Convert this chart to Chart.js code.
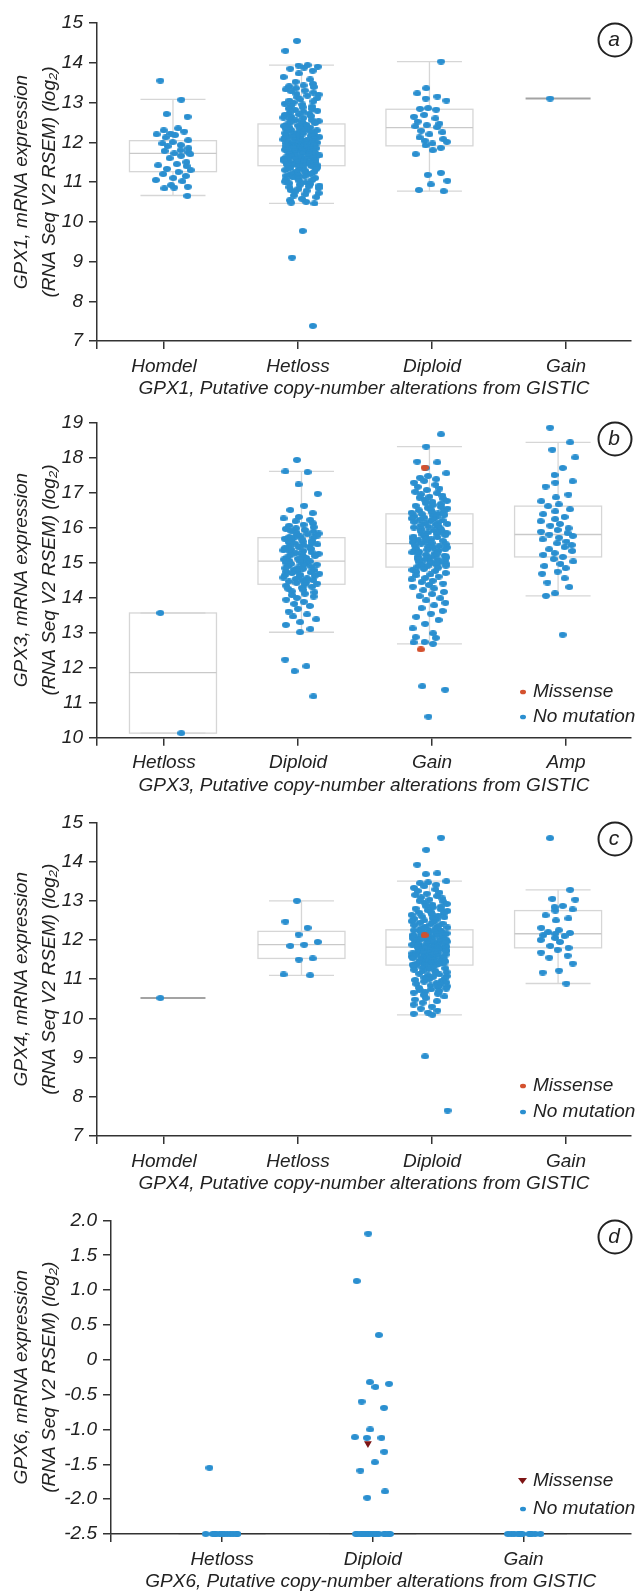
<!DOCTYPE html>
<html>
<head>
<meta charset="utf-8">
<script src="https://cdn.jsdelivr.net/npm/chart.js@4.4.0/dist/chart.umd.min.js"></script>
<style>
  body { margin: 0; background: #fff; }
  #wrap { position: relative; width: 635px; height: 1596px; overflow: hidden; }
  canvas { position: absolute; left: 0; }
</style>
</head>
<body>
<div id="wrap">
  <canvas id="chartA" width="635" height="405" style="top:0px"></canvas>
  <canvas id="chartB" width="635" height="400" style="top:405px"></canvas>
  <canvas id="chartC" width="635" height="398" style="top:805px"></canvas>
  <canvas id="chartD" width="635" height="393" style="top:1203px"></canvas>
</div>
<script>
// ---- panel a : GPX1 ----
const catsA = ['Homdel', 'Hetloss', 'Diploid', 'Gain'];
const homdelA = [13.55, 13.07, 12.71, 12.64, 12.35, 12.3, 12.27, 12.22, 12.2, 12.18, 12.12, 12.05, 12.0, 11.97, 11.93,
  11.9, 11.85, 11.8, 11.78, 11.75, 11.72, 11.7, 11.66, 11.6, 11.5, 11.45, 11.42, 11.4, 11.33, 11.3, 11.25, 11.2,
  11.15, 11.1, 11.05, 11.02, 10.92, 10.88, 10.86, 10.84, 10.65];
const hetlossA = [14.55, 14.3, 13.94, 13.93, 13.9, 13.88, 13.85, 13.8, 13.73, 13.64, 13.58, 13.52, 13.47, 13.43, 13.41,
  13.39, 13.36, 13.33, 13.3, 13.28, 13.25, 13.22, 13.2, 13.17, 13.13, 13.11, 13.08, 13.05, 13.03, 13.0, 12.97, 12.95,
  12.92, 12.9, 12.88, 12.85, 12.84, 12.81, 12.79, 12.77, 12.74, 12.72, 12.7, 12.69, 12.66, 12.64, 12.62, 12.61, 12.58,
  12.56, 12.55, 12.53, 12.51, 12.5, 12.48, 12.47,
  12.45, 12.44, 12.42, 12.41, 12.4, 12.38, 12.37, 12.35, 12.34, 12.33, 12.31, 12.3, 12.29, 12.27, 12.26, 12.25, 12.23,
  12.22, 12.21, 12.19, 12.18, 12.17, 12.16, 12.14, 12.13, 12.12, 12.11, 12.09, 12.08, 12.07, 12.06, 12.05, 12.04, 12.03,
  12.02, 12.01, 12.0, 11.99, 11.98, 11.98, 11.97, 11.96, 11.95, 11.95, 11.94, 11.93, 11.93, 11.92, 11.92, 11.91, 11.91,
  11.9, 11.9, 11.89, 11.88, 11.88, 11.87, 11.86, 11.85, 11.84, 11.84, 11.83, 11.82, 11.81, 11.8, 11.79, 11.78, 11.77,
  11.76, 11.75, 11.74, 11.73, 11.72, 11.71, 11.7, 11.68, 11.67, 11.66, 11.65, 11.64, 11.63, 11.62, 11.6, 11.59, 11.58,
  11.57, 11.56, 11.55, 11.54, 11.53, 11.52, 11.51, 11.5, 11.49, 11.48, 11.47, 11.46, 11.45, 11.44, 11.43, 11.43, 11.42, 11.41,
  11.4, 11.39, 11.37, 11.36, 11.34, 11.33, 11.31, 11.3, 11.28, 11.26, 11.25, 11.23, 11.21, 11.2, 11.18, 11.16, 11.14,
  11.12, 11.1, 11.09, 11.07, 11.05, 11.03, 11.01, 10.99, 10.97, 10.95, 10.93, 10.91, 10.89, 10.87, 10.85, 10.83, 10.8,
  10.78, 10.75, 10.72, 10.69, 10.66, 10.62, 10.58, 10.54, 10.5, 10.48, 10.46, 9.77, 9.1, 7.38];
const diploidA = [14.03, 13.36, 13.23, 13.15, 13.1, 13.05, 12.86, 12.84, 12.82, 12.69, 12.64, 12.6, 12.52, 12.47, 12.43,
  12.4, 12.38, 12.29, 12.25, 12.2, 12.12, 12.08, 12.04, 12.01, 11.97, 11.92, 11.86, 11.8, 11.7, 11.23, 11.18, 11.03,
  10.94, 10.8, 10.77];
const gainA = [13.1];
const lowA = [10.66, 10.46, 10.77, 13.1];
const q1A = [11.26, 11.41, 11.91, 13.1];
const medA = [11.72, 11.91, 12.37, 13.1];
const q3A = [12.04, 12.46, 12.83, 13.1];
const highA = [13.08, 13.94, 14.03, 13.1];

// ---- panel b : GPX3 ----
const catsB = ['Hetloss', 'Diploid', 'Gain', 'Amp'];
const hetlossB = [13.56, 10.13];
const diploidB = [17.93, 17.6, 17.58, 17.23, 16.96, 16.62, 16.5, 16.41, 16.3, 16.26, 16.22, 16.18, 16.12, 16.08, 16.05,
  16.01, 15.98, 15.96, 15.93, 15.9, 15.88, 15.86, 15.83, 15.81, 15.79, 15.77, 15.75, 15.73, 15.72,
  15.7, 15.68, 15.66, 15.64, 15.62, 15.6, 15.58, 15.56, 15.54, 15.52, 15.5, 15.47, 15.45, 15.43, 15.41, 15.39, 15.37,
  15.35, 15.33, 15.31, 15.29, 15.27, 15.25, 15.23, 15.21, 15.19, 15.17, 15.15, 15.13, 15.11, 15.09, 15.07, 15.05,
  15.03, 15.02, 15.0, 14.98, 14.96, 14.94, 14.92, 14.9, 14.88, 14.86, 14.84, 14.82, 14.8, 14.78, 14.76, 14.74, 14.72,
  14.7, 14.68, 14.66, 14.64, 14.62, 14.6, 14.57, 14.55, 14.53, 14.5, 14.48, 14.46, 14.44, 14.42, 14.4,
  14.37, 14.34, 14.31, 14.28, 14.25, 14.22, 14.18, 14.15, 14.11, 14.07, 14.03, 13.99, 13.94, 13.88, 13.82, 13.76,
  13.68, 13.6, 13.52, 13.46, 13.38, 13.3, 13.22, 13.1, 13.01, 12.23, 12.04, 11.9, 11.18];
const gainB = [18.66, 18.31, 17.88, 17.86, 17.7, 17.55, 17.47, 17.42, 17.38, 17.33, 17.28, 17.22, 17.16, 17.11, 17.07,
  17.02, 16.98, 16.95, 16.91, 16.88, 16.85, 16.82, 16.79, 16.76, 16.73, 16.7, 16.67, 16.64, 16.62, 16.59, 16.56,
  16.54, 16.51, 16.49, 16.46, 16.44, 16.42, 16.4,
  16.38, 16.36, 16.34, 16.32, 16.3, 16.28, 16.26, 16.24, 16.22, 16.2, 16.18, 16.16, 16.14, 16.12, 16.1, 16.08, 16.06,
  16.04, 16.02, 16.0, 15.98, 15.96, 15.94, 15.92, 15.9, 15.88, 15.86, 15.84, 15.82, 15.8, 15.78, 15.76, 15.74, 15.72,
  15.7, 15.68, 15.66, 15.64, 15.62, 15.6, 15.58, 15.56,
  15.54, 15.52, 15.5, 15.49, 15.47, 15.45, 15.43, 15.42, 15.4, 15.38, 15.36, 15.35, 15.33, 15.31, 15.29, 15.27, 15.26,
  15.24, 15.22, 15.2, 15.18, 15.17, 15.15, 15.13, 15.11, 15.09, 15.08, 15.06, 15.04, 15.02, 15.0, 14.99, 14.97, 14.95,
  14.93, 14.91, 14.9, 14.88,
  14.85, 14.82, 14.79, 14.76, 14.73, 14.7, 14.66, 14.63, 14.6, 14.56, 14.52, 14.48, 14.44, 14.4, 14.36, 14.31, 14.26,
  14.21, 14.16, 14.1, 14.04, 13.98, 13.92, 13.85, 13.78, 13.7, 13.62, 13.54, 13.45, 13.36, 13.25, 13.12, 12.98, 12.87,
  12.85, 12.73, 12.72, 12.68, 11.47, 11.37, 10.6];
const ampB = [18.85, 18.43, 18.22, 18.0, 17.7, 17.5, 17.32, 17.28, 17.17, 16.94, 16.86, 16.75, 16.66, 16.61, 16.52,
  16.46, 16.38, 16.3, 16.24, 16.18, 16.1, 16.05, 15.98, 15.93, 15.88, 15.84, 15.8, 15.76, 15.71, 15.66, 15.6, 15.55,
  15.5, 15.44, 15.38, 15.33, 15.27, 15.22, 15.16, 15.1, 15.03, 14.96, 14.9, 14.84, 14.74, 14.68, 14.55, 14.43, 14.3,
  14.12, 14.05, 12.94];
const missenseGainB = [17.71, 12.52];
const lowB = [10.13, 13.01, 12.68, 14.05];
const q1B = [10.13, 14.38, 14.87, 15.16];
const medB = [11.86, 15.04, 15.54, 15.8];
const q3B = [13.56, 15.71, 16.39, 16.61];
const highB = [13.56, 17.6, 18.31, 18.43];

// ---- panel c : GPX4 ----
const catsC = ['Homdel', 'Hetloss', 'Diploid', 'Gain'];
const homdelC = [10.52];
const hetlossC = [13.0, 12.47, 12.31, 12.14, 11.95, 11.88, 11.85, 11.53, 11.5, 11.12, 11.1];
const diploidC = [14.61, 14.3, 13.92, 13.7, 13.68, 13.5, 13.47, 13.45, 13.41, 13.37, 13.33, 13.29, 13.25, 13.21, 13.18,
  13.15, 13.12, 13.09, 13.06, 13.03, 13.0, 12.98, 12.95, 12.92, 12.9, 12.87, 12.85, 12.83, 12.8, 12.78, 12.76, 12.74,
  12.72, 12.7, 12.68, 12.66, 12.64, 12.62, 12.6, 12.58, 12.56, 12.54, 12.52, 12.5, 12.48, 12.46, 12.44, 12.42, 12.4,
  12.38, 12.36, 12.34, 12.32, 12.3, 12.29, 12.27,
  12.26, 12.25, 12.24, 12.23, 12.22, 12.21, 12.2, 12.19, 12.18, 12.17, 12.16, 12.15, 12.14, 12.13, 12.13, 12.11, 12.1,
  12.09, 12.08, 12.07, 12.06, 12.05, 12.04, 12.03, 12.02, 12.01, 12.0, 11.99, 11.98, 11.97, 11.96, 11.95, 11.94, 11.93,
  11.92, 11.91, 11.9, 11.89, 11.88, 11.87, 11.86, 11.86, 11.85, 11.84, 11.84, 11.83, 11.83, 11.82, 11.82,
  11.81, 11.8, 11.79, 11.78, 11.77, 11.76, 11.75, 11.74, 11.73, 11.72, 11.71, 11.7, 11.69, 11.68, 11.67, 11.66, 11.65,
  11.64, 11.63, 11.62, 11.61, 11.6, 11.59, 11.58, 11.57, 11.56, 11.55, 11.54, 11.53, 11.52, 11.51, 11.5, 11.49, 11.48,
  11.47, 11.46, 11.45, 11.44, 11.43, 11.42, 11.41, 11.4, 11.39, 11.38, 11.37, 11.37, 11.36, 11.36,
  11.35, 11.33, 11.32, 11.3, 11.28, 11.26, 11.24, 11.22, 11.2, 11.18, 11.16, 11.14, 11.12, 11.1, 11.08, 11.06, 11.04,
  11.02, 11.0, 10.98, 10.96, 10.94, 10.92, 10.9, 10.88, 10.86, 10.84, 10.82, 10.8, 10.78, 10.76, 10.74, 10.72, 10.7,
  10.68, 10.66, 10.63, 10.6, 10.56, 10.52, 10.48, 10.44, 10.4, 10.35, 10.3, 10.25, 10.2, 10.15, 10.12, 10.09, 9.03, 7.65];
const gainC = [14.6, 13.28, 13.05, 13.03, 12.87, 12.84, 12.78, 12.75, 12.63, 12.55, 12.5, 12.31, 12.25, 12.2, 12.18,
  12.16, 12.12, 12.1, 12.05, 12.0, 11.95, 11.85, 11.8, 11.75, 11.68, 11.6, 11.55, 11.4, 11.22, 11.17, 10.89];
const missenseDiploidC = [12.12];
const lowC = [10.52, 11.1, 10.09, 10.89];
const q1C = [10.52, 11.53, 11.36, 11.8];
const medC = [10.52, 11.88, 11.82, 12.16];
const q3C = [10.52, 12.22, 12.26, 12.75];
const highC = [10.52, 13.0, 13.5, 13.28];

// ---- panel d : GPX6 ----
const catsD = ['Hetloss', 'Diploid', 'Gain'];
const hetlossD = [-1.55, -2.5, -2.5, -2.5, -2.5, -2.5, -2.5, -2.5, -2.5, -2.5, -2.5, -2.5, -2.5];
const diploidD = [1.81, 1.13, 0.355, -0.32, -0.345, -0.39, -0.6, -0.69, -1.0, -1.11, -1.12, -1.12, -1.32, -1.47,
  -1.59, -1.89, -1.98, -2.5, -2.5, -2.5, -2.5, -2.5, -2.5, -2.5, -2.5, -2.5, -2.5, -2.5, -2.5, -2.5, -2.5, -2.5, -2.5];
const gainD = [-2.5, -2.5, -2.5, -2.5, -2.5, -2.5, -2.5, -2.5, -2.5, -2.5, -2.5, -2.5];
const missenseDiploidD = [-1.2];
const lowD = [-2.5, -2.5, -2.5];
const q1D = [-2.5, -2.5, -2.5];
const medD = [-2.5, -2.5, -2.5];
const q3D = [-2.5, -2.5, -2.5];
const highD = [-2.5, -2.5, -2.5];

// ---- style ----
Chart.defaults.font.family = "'Liberation Sans', Arial, Helvetica, sans-serif";
Chart.defaults.font.style = 'italic';
Chart.defaults.font.size = 19;
Chart.defaults.color = '#222';

const BLUE = '#2a8fd0';
const RED = '#d4512e';
const DARKRED = '#7d1414';
const BOX_W = 87;
const CAP_W = 65;
const TITLE_GAP = 48;

// oval marker like the original dots (a bit wider than tall)
function ovalMarker(color, w, h) {
    const c = document.createElement('canvas');
    c.width = w;
    c.height = h;
    const g = c.getContext('2d');
    g.fillStyle = color;
    g.beginPath();
    g.ellipse(w / 2, h / 2, w / 2, h / 2, 0, 0, Math.PI * 2);
    g.fill();
    return c;
}
const blueDot = ovalMarker(BLUE, 8, 6);
const redDot = ovalMarker(RED, 8, 6);

// sideways spread of a group: golden-ratio steps with a small fixed wobble,
// so it fills the strip evenly and is the same on every run
function spread(values, center, width, seed) {
    return values.map((v, i) => {
        const h = Math.sin((i + 1) * 12.9898 + seed * 78.233) * 43758.5453;
        const wob = h - Math.floor(h);
        const g = (i + 1) * 0.61803398875 + seed * 0.37 + wob * 0.22;
        const f = g - Math.floor(g);
        return { x: center + (f - 0.5) * width, y: v };
    });
}

function line(ctx, x1, y1, x2, y2) {
    ctx.beginPath();
    ctx.moveTo(x1, y1);
    ctx.lineTo(x2, y2);
    ctx.stroke();
}

function makePanel(cfg) {
    const datasets = cfg.groups.map((vals, i) => ({
        data: spread(vals, cfg.centers[i], cfg.jitter, i + 1),
        pointStyle: blueDot,
        backgroundColor: BLUE,
        pointRadius: 4,
        borderWidth: 0,
        clip: false
    }));
    if (cfg.missense) {
        const tri = cfg.missense.triangle;
        // lower order is drawn last, so the mutated samples sit on top
        datasets.push({
            order: -1,
            data: spread(cfg.missense.values, cfg.centers[cfg.missense.cat], cfg.jitter * 0.5, 7),
            backgroundColor: tri ? DARKRED : RED,
            pointStyle: tri ? 'triangle' : redDot,
            rotation: tri ? 180 : 0,
            pointRadius: tri ? 4.5 : 4,
            borderWidth: 0,
            clip: false
        });
    }

    const boxPlugin = {
        id: 'boxes',
        beforeDraw(chart) {
            const ctx = chart.ctx, xs = chart.scales.x, ys = chart.scales.y;
            ctx.save();
            cfg.centers.forEach((c, i) => {
                const cx = xs.getPixelForValue(c);
                const yLo = ys.getPixelForValue(cfg.low[i]);
                const y1 = ys.getPixelForValue(cfg.q1[i]);
                const ym = ys.getPixelForValue(cfg.med[i]);
                const y3 = ys.getPixelForValue(cfg.q3[i]);
                const yHi = ys.getPixelForValue(cfg.high[i]);
                if (cfg.q1[i] === cfg.q3[i]) {
                    ctx.strokeStyle = cfg.flatColor;
                    ctx.lineWidth = 2;
                    line(ctx, cx - (cfg.flatW / 2), ym, cx + (cfg.flatW / 2), ym);
                    return;
                }
                ctx.strokeStyle = '#d6d6d6';
                ctx.lineWidth = 1.3;
                ctx.strokeRect(cx - BOX_W / 2, y3, BOX_W, y1 - y3);
                ctx.strokeStyle = '#c9c9c9';
                line(ctx, cx - BOX_W / 2, ym, cx + BOX_W / 2, ym);
                ctx.strokeStyle = '#d6d6d6';
                line(ctx, cx, y3, cx, yHi);
                line(ctx, cx, y1, cx, yLo);
                line(ctx, cx - CAP_W / 2, yHi, cx + CAP_W / 2, yHi);
                line(ctx, cx - CAP_W / 2, yLo, cx + CAP_W / 2, yLo);
            });
            ctx.restore();
        }
    };

    const decorPlugin = {
        id: 'decor',
        afterDraw(chart) {
            const ctx = chart.ctx;
            ctx.save();
            // panel letter in a circle
            ctx.strokeStyle = '#222';
            ctx.lineWidth = 2;
            ctx.beginPath();
            ctx.arc(615, cfg.letterY, 16.5, 0, Math.PI * 2);
            ctx.stroke();
            ctx.fillStyle = '#222';
            ctx.font = "italic 21px 'Liberation Sans', Arial, sans-serif";
            ctx.textAlign = 'center';
            ctx.textBaseline = 'middle';
            ctx.fillText(cfg.letter, 614, cfg.letterY);
            // legend
            if (cfg.legendY) {
                ctx.font = "italic 19px 'Liberation Sans', Arial, sans-serif";
                ctx.textAlign = 'left';
                const [y1, y2] = cfg.legendY;
                if (cfg.missense && cfg.missense.triangle) {
                    ctx.fillStyle = DARKRED;
                    ctx.beginPath();
                    ctx.moveTo(518, y1 - 3);
                    ctx.lineTo(527, y1 - 3);
                    ctx.lineTo(522.5, y1 + 3);
                    ctx.closePath();
                    ctx.fill();
                } else {
                    ctx.fillStyle = RED;
                    ctx.beginPath();
                    ctx.ellipse(523, y1, 3, 2.3, 0, 0, Math.PI * 2);
                    ctx.fill();
                }
                ctx.fillStyle = BLUE;
                ctx.beginPath();
                ctx.ellipse(523, y2, 3, 2.3, 0, 0, Math.PI * 2);
                ctx.fill();
                ctx.fillStyle = '#222';
                ctx.fillText('Missense', 533, y1);
                ctx.fillText('No mutation', 533, y2);
            }
            ctx.restore();
        }
    };

    return new Chart(document.getElementById(cfg.id), {
        type: 'scatter',
        data: { datasets: datasets },
        options: {
            responsive: false,
            animation: false,
            events: [],
            layout: { padding: { top: cfg.padTop, left: 0, right: 0, bottom: 0 } },
            plugins: { legend: { display: false }, tooltip: { enabled: false } },
            scales: {
                x: {
                    type: 'linear',
                    min: cfg.xMin,
                    max: cfg.xMax,
                    afterBuildTicks: s => { s.ticks = cfg.tickVals.map(v => ({ value: v })); },
                    afterFit: s => { s.height = cfg.xH; },
                    ticks: {
                        autoSkip: false,
                        maxRotation: 0,
                        padding: 6,
                        color: '#222',
                        callback: (v, i) => cfg.tickLabels[i]
                    },
                    grid: { drawOnChartArea: false, drawTicks: true, tickLength: 8, color: '#333', lineWidth: 1.5 },
                    border: { display: true, color: '#333', width: 1.5 },
                    title: {
                        display: true,
                        text: cfg.xTitle,
                        color: '#222',
                        font: { size: 19, style: 'italic', lineHeight: 1.2 },
                        padding: { top: 0, bottom: cfg.xH - TITLE_GAP - 11.4 }
                    }
                },
                y: {
                    min: cfg.yMin,
                    max: cfg.yMax,
                    afterFit: s => { s.width = cfg.yW; },
                    ticks: {
                        stepSize: cfg.yStep,
                        padding: 6,
                        color: '#222',
                        callback: cfg.yFormat
                    },
                    grid: { drawOnChartArea: false, drawTicks: true, tickLength: 8, color: '#333', lineWidth: 1.5 },
                    border: { display: true, color: '#333', width: 1.5 },
                    title: {
                        display: true,
                        text: cfg.yTitle,
                        color: '#222',
                        font: { size: 19, style: 'italic', lineHeight: 1.45 },
                        padding: { top: 8, bottom: 0 }
                    }
                }
            }
        },
        plugins: [boxPlugin, decorPlugin]
    });
}

const intFormat = v => String(v);
const halfFormat = v => (v === 0 ? '0' : v.toFixed(1));
const xMaxWide = 538 / 135;

makePanel({
    id: 'chartA', padTop: 23, xH: 64, yW: 97,
    yMin: 7, yMax: 15, yStep: 1, yFormat: intFormat,
    xMin: 0, xMax: xMaxWide, tickVals: [0, 0.5, 1.5, 2.5, 3.5], tickLabels: [''].concat(catsA),
    centers: [0.567, 1.526, 2.481, 3.441], jitter: 0.27,
    groups: [homdelA, hetlossA, diploidA, gainA],
    low: lowA, q1: q1A, med: medA, q3: q3A, high: highA, flatColor: '#a3a3a3', flatW: CAP_W,
    xTitle: 'GPX1, Putative copy-number alterations from GISTIC',
    yTitle: ['GPX1, mRNA expression', '(RNA Seq V2 RSEM) (log\u2082)'],
    letter: 'a', letterY: 40
});

makePanel({
    id: 'chartB', padTop: 15.7, xH: 67.3, yW: 97,
    yMin: 10, yMax: 19, yStep: 1, yFormat: intFormat,
    xMin: 0, xMax: xMaxWide, tickVals: [0, 0.5, 1.5, 2.5, 3.5], tickLabels: [''].concat(catsB),
    centers: [0.567, 1.526, 2.481, 3.441], jitter: 0.27,
    groups: [hetlossB, diploidB, gainB, ampB],
    missense: { cat: 2, values: missenseGainB },
    low: lowB, q1: q1B, med: medB, q3: q3B, high: highB, flatColor: '#a3a3a3', flatW: CAP_W,
    xTitle: 'GPX3, Putative copy-number alterations from GISTIC',
    yTitle: ['GPX3, mRNA expression', '(RNA Seq V2 RSEM) (log\u2082)'],
    letter: 'b', letterY: 34, legendY: [287, 312]
});

makePanel({
    id: 'chartC', padTop: 14, xH: 67, yW: 97,
    yMin: 7, yMax: 15, yStep: 1, yFormat: intFormat,
    xMin: 0, xMax: xMaxWide, tickVals: [0, 0.5, 1.5, 2.5, 3.5], tickLabels: [''].concat(catsC),
    centers: [0.567, 1.526, 2.481, 3.441], jitter: 0.27,
    groups: [homdelC, hetlossC, diploidC, gainC],
    missense: { cat: 2, values: missenseDiploidC },
    low: lowC, q1: q1C, med: medC, q3: q3C, high: highC, flatColor: '#a3a3a3', flatW: CAP_W,
    xTitle: 'GPX4, Putative copy-number alterations from GISTIC',
    yTitle: ['GPX4, mRNA expression', '(RNA Seq V2 RSEM) (log\u2082)'],
    letter: 'c', letterY: 34, legendY: [281, 307]
});

makePanel({
    id: 'chartD', padTop: 13.7, xH: 62, yW: 111,
    yMin: -2.5, yMax: 2, yStep: 0.5, yFormat: halfFormat,
    xMin: -0.737, xMax: 2.71, tickVals: [-0.737, 0, 1, 2], tickLabels: [''].concat(catsD),
    centers: [0, 1, 2], jitter: 0.24,
    groups: [hetlossD, diploidD, gainD],
    missense: { cat: 1, values: missenseDiploidD, triangle: true },
    low: lowD, q1: q1D, med: medD, q3: q3D, high: highD, flatColor: '#e2e2e2', flatW: BOX_W,
    xTitle: 'GPX6, Putative copy-number alterations from GISTIC',
    yTitle: ['GPX6, mRNA expression', '(RNA Seq V2 RSEM) (log\u2082)'],
    letter: 'd', letterY: 34, legendY: [278, 306]
});
</script>
</body>
</html>
